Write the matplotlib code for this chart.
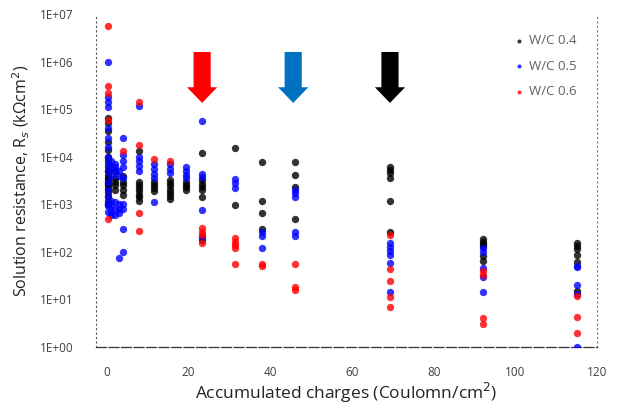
import matplotlib
matplotlib.use("Agg")
import matplotlib.pyplot as plt
import matplotlib.transforms as mtransforms
from matplotlib.patches import Polygon
from matplotlib.ticker import FixedLocator, NullLocator

# Solution resistance (kOhm cm2) versus accumulated charge for three W/C ratios
wc04_x = ([0.3] * 19 + [2] * 5 + [3.9] * 5 + [7.8] * 8 + [11.5] * 4 + [15.4] * 7
          + [19.3] * 4 + [23.3] * 7 + [31.4] * 2 + [38] * 4 + [46] * 4 + [69.3] * 6
          + [92] * 6 + [115] * 6)
wc04_y = [6.5e4, 5e4, 3.5e4, 2e4, 1.4e4, 1e4, 8e3, 6e3, 5e3, 4.2e3, 3.6e3, 3.2e3,
          2.8e3, 2.5e3, 2.2e3, 1.8e3, 1.5e3, 1.2e3, 1e3,
          5e3, 3.5e3, 3e3, 2.5e3, 2e3,
          4e3, 3e3, 2.5e3, 2e3, 1.6e3,
          1.3e4, 3e3, 2.6e3, 2.2e3, 1.9e3, 1.6e3, 1.4e3, 1.2e3,
          3e3, 2.6e3, 2.2e3, 1.9e3,
          3.3e3, 2.8e3, 2.4e3, 2e3, 1.7e3, 1.5e3, 1.3e3,
          3e3, 2.6e3, 2.3e3, 2e3,
          1.2e4, 3.2e3, 2.7e3, 2.3e3, 2e3, 1.4e3, 180,
          1.5e4, 960,
          7.8e3, 1.2e3, 660, 300,
          7.8e3, 4.1e3, 2.3e3, 500,
          6e3, 5.2e3, 4.5e3, 3.6e3, 1.2e3, 260,
          190, 165, 145, 130, 80, 65,
          150, 130, 115, 85, 60, 15]

wc05_x = ([0.3] * 16 + [1] * 7 + [2] * 6 + [3] * 6 + [3.9] * 9 + [7.8] * 5
          + [11.5] * 5 + [15.4] * 3 + [19.3] * 4 + [23.3] * 5 + [31.4] * 3
          + [38] * 3 + [46] * 5 + [69.3] * 6 + [92] * 5 + [115] * 5)
wc05_y = [1e6, 1.8e5, 1.4e5, 1.1e5, 4e4, 2.5e4, 1.6e4, 1e4, 7e3, 5e3, 3e3, 2e3,
          1.4e3, 1e3, 900, 700,
          8e3, 6e3, 4e3, 1.2e3, 900, 700, 600,
          7e3, 6e3, 5e3, 1.1e3, 800, 600,
          5e3, 4e3, 1e3, 800, 650, 75,
          2.5e4, 1.1e4, 8e3, 6e3, 3.5e3, 1e3, 800, 300, 100,
          1.15e5, 1e4, 8e3, 6.5e3, 5e3,
          7e3, 5.5e3, 4.3e3, 3.5e3, 1.1e3,
          7e3, 5.5e3, 4.5e3,
          6e3, 5e3, 4.2e3, 3.5e3,
          5.6e4, 4.3e3, 3.8e3, 760, 210,
          3.4e3, 2.8e3, 2.2e3,
          260, 220, 120,
          2e3, 1.7e3, 1.4e3, 260, 220,
          150, 125, 105, 88, 58, 14,
          120, 100, 45, 30, 14,
          50, 48, 20, 13, 1]

wc06_x = ([0.3] * 5 + [3.9] + [7.8] * 4 + [11.5] + [15.4] + [23.3] * 4
          + [31.4] * 5 + [38] * 2 + [46] * 3 + [69.3] * 5 + [92] * 4 + [115] * 3)
wc06_y = [5.5e6, 3e5, 2.2e5, 6e4, 500,
          1.3e4,
          1.4e5, 1.8e4, 660, 275,
          9e3,
          8e3,
          310, 260, 230, 150,
          200, 165, 140, 120, 55,
          55, 50,
          55, 18, 16,
          230, 44, 25, 11, 7,
          40, 33, 4, 3,
          12, 4.2, 2]

series_labels = ["W/C 0.4", "W/C 0.5", "W/C 0.6"]
series_colors = ["#000000", "#0000ff", "#ff0000"]

# Charge levels flagged by arrows, with their colours
arrow_x = [23.3, 45.6, 69.3]
arrow_colors = ["#ff0000", "#0070c0", "#000000"]

x_ticks = [0, 20, 40, 60, 80, 100, 120]
y_ticks = [1e0, 1e1, 1e2, 1e3, 1e4, 1e5, 1e6, 1e7]
y_tick_labels = ["1E+00", "1E+01", "1E+02", "1E+03", "1E+04", "1E+05", "1E+06", "1E+07"]

plt.rcParams["font.family"] = ["Open Sans", "DejaVu Sans"]

fig = plt.figure(figsize=(6.19, 4.07), dpi=100)
ax = fig.add_axes([0.155, 0.1474, 0.8095, 0.8182])

for xs, ys, lab, col in zip([wc04_x, wc05_x, wc06_x], [wc04_y, wc05_y, wc06_y],
                            series_labels, series_colors):
    ax.scatter(xs, ys, s=28, color=col, alpha=0.8, linewidths=0, label=lab, zorder=3)

ax.set_yscale("log")
ax.set_xlim(-2.7, 120)
ax.set_ylim(1, 1e7)
ax.yaxis.set_major_locator(FixedLocator(y_ticks))
ax.yaxis.set_minor_locator(NullLocator())
ax.set_yticklabels(y_tick_labels)
ax.set_xticks(x_ticks)
ax.tick_params(axis="both", length=0, labelsize=8.5, labelcolor="#404040")
ax.tick_params(axis="y", pad=16)
ax.tick_params(axis="x", pad=14)

ax.spines["top"].set_visible(False)
ax.spines["left"].set_linestyle((0, (1, 3)))
ax.spines["left"].set_color("#555555")
ax.spines["left"].set_linewidth(0.8)
ax.spines["right"].set_linestyle((0, (1, 3)))
ax.spines["right"].set_color("#777777")
ax.spines["right"].set_linewidth(0.8)
ax.spines["bottom"].set_linestyle((0, (8, 2)))
ax.spines["bottom"].set_color("#333333")
ax.spines["bottom"].set_linewidth(0.9)

ax.set_xlabel("Accumulated charges (Coulomn/cm$^2$)", fontsize=12.5, color="#222222",
              labelpad=1)
ax.set_ylabel("Solution resistance, R$_s$ (k\u03a9cm$^2$)", fontsize=11.5,
              color="#222222", labelpad=6)

# Block arrows: x in data units, y in axes fraction
blend = mtransforms.blended_transform_factory(ax.transData, ax.transAxes)
shaft_hw, head_hw = 2.1, 3.7
top, neck, tip = 0.886, 0.78, 0.733
for xc, col in zip(arrow_x, arrow_colors):
    pts = [(xc - shaft_hw, top), (xc + shaft_hw, top), (xc + shaft_hw, neck),
           (xc + head_hw, neck), (xc, tip), (xc - head_hw, neck),
           (xc - shaft_hw, neck)]
    ax.add_patch(Polygon(pts, closed=True, transform=blend, facecolor=col,
                         edgecolor="none", zorder=4))

leg = ax.legend(loc="upper right", bbox_to_anchor=(0.97, 0.955), frameon=False,
                fontsize=9.5, handletextpad=0.25, labelspacing=0.95, markerscale=0.55,
                handlelength=1.0, borderaxespad=0)
for t in leg.get_texts():
    t.set_color("#606060")

fig.savefig("out.png", dpi=100)
